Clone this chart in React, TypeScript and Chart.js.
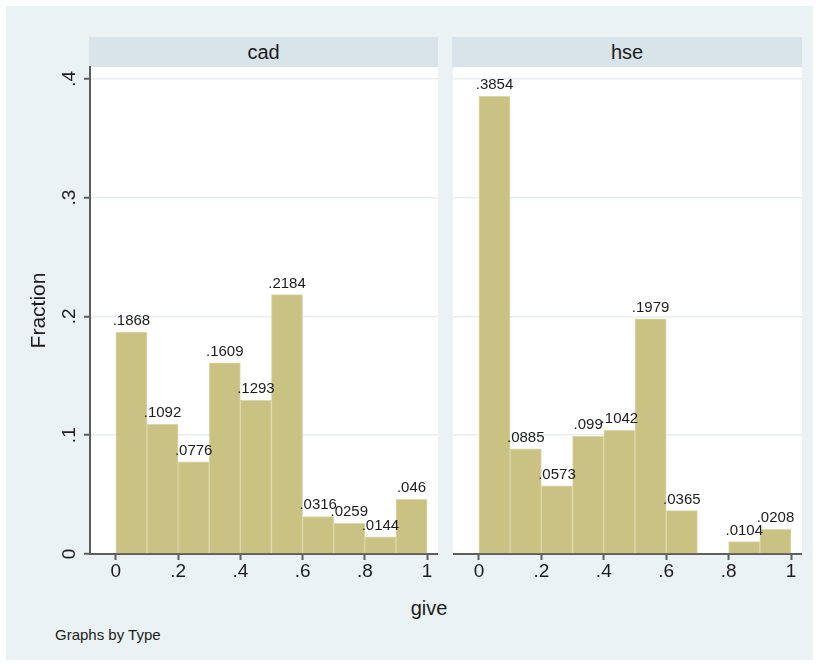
import React, { useEffect, useRef } from 'react';
import { Chart, registerables } from 'chart.js';

Chart.register(...registerables);

// ---- data ----
const panelNames = ['cad', 'hse'];
const binCenters = [0.05, 0.15, 0.25, 0.35, 0.45, 0.55, 0.65, 0.75, 0.85, 0.95];
const cadFractions = [0.1868, 0.1092, 0.0776, 0.1609, 0.1293, 0.2184, 0.0316, 0.0259, 0.0144, 0.046];
const hseFractions = [0.3854, 0.0885, 0.0573, 0.099, 0.1042, 0.1979, 0.0365, null, 0.0104, 0.0208];
const xTicks = [0, 0.2, 0.4, 0.6, 0.8, 1];
const yTicks = [0, 0.1, 0.2, 0.3, 0.4];
const yTitle = 'Fraction';
const xTitle = 'give';
const noteText = 'Graphs by Type';

// ---- style ----
const FONT = "'Liberation Sans', Arial, Helvetica, sans-serif";
const TEXT = '#1c1c1c';
const BG = '#eaf2f3';
const HEADER_BG = '#d8e4ea';
const GRID = '#e8eff2';
const AXIS = '#5e5e5e';
const BAR = '#c9c283';
const BAR_EDGE = '#dcd8ae';

const fmt = (v: number) => (v === 0 ? '0' : String(v).replace(/^0\./, '.'));

const plotBg = {
  id: 'plotBg',
  beforeDraw(chart: any) {
    const { ctx, chartArea } = chart;
    ctx.save();
    ctx.fillStyle = '#ffffff';
    ctx.fillRect(chartArea.left, chartArea.top, chartArea.right - chartArea.left, chartArea.bottom - chartArea.top);
    ctx.restore();
  },
};

const barLabels = {
  id: 'barLabels',
  afterDatasetsDraw(chart: any) {
    const ctx = chart.ctx;
    const meta = chart.getDatasetMeta(0);
    const ds = chart.data.datasets[0];
    ctx.save();
    ctx.font = `15px ${FONT}`;
    ctx.fillStyle = TEXT;
    ctx.textAlign = 'center';
    ctx.textBaseline = 'alphabetic';
    meta.data.forEach((el: any, i: number) => {
      const v = ds.data[i].y;
      if (v == null) return;
      ctx.fillText(fmt(v), el.x, el.y - 7);
    });
    ctx.restore();
  },
};

function Panel({ values, showY, left, width }: { values: (number | null)[]; showY: boolean; left: number; width: number }) {
  const ref = useRef<HTMLCanvasElement>(null);
  useEffect(() => {
    if (!ref.current) return;
    const chart = new Chart(ref.current, {
      type: 'bar',
      data: {
        datasets: [
          {
            data: binCenters.map((x, i) => ({ x, y: values[i] })) as any,
            backgroundColor: BAR,
            borderColor: BAR_EDGE,
            borderWidth: 1,
            barPercentage: 1,
            categoryPercentage: 1,
          },
        ],
      },
      options: {
        animation: false,
        responsive: false,
        maintainAspectRatio: false,
        devicePixelRatio: 1,
        layout: { padding: { top: 25, left: 0, right: 0, bottom: 0 } },
        plugins: { legend: { display: false }, tooltip: { enabled: false }, title: { display: false } },
        scales: {
          x: {
            type: 'linear',
            min: -0.083,
            max: 1.035,
            bounds: 'data',
            offset: false,
            afterBuildTicks: (s: any) => {
              s.ticks = xTicks.map((v) => ({ value: v }));
            },
            afterFit: (s: any) => {
              s.height = 40;
            },
            grid: { drawOnChartArea: false, offset: false, tickLength: 6, tickColor: AXIS, tickWidth: 2 },
            border: { color: AXIS, width: 2 },
            ticks: {
              autoSkip: false,
              maxRotation: 0,
              padding: 0,
              color: TEXT,
              font: { family: FONT, size: 19 },
              callback: (v: any) => fmt(Number(v)),
            },
          },
          y: {
            type: 'linear',
            min: 0,
            max: 0.41,
            bounds: 'data',
            afterBuildTicks: (s: any) => {
              s.ticks = yTicks.map((v) => ({ value: v }));
            },
            afterFit: (s: any) => {
              s.width = showY ? 90 : 0;
            },
            grid: {
              color: (c: any) => (c.tick && c.tick.value === 0 ? 'rgba(0,0,0,0)' : GRID),
              lineWidth: 1.5,
              drawTicks: showY,
              tickLength: 6,
              tickColor: AXIS,
              tickWidth: 2,
            },
            border: { display: showY, color: AXIS, width: 2 },
            ticks: {
              display: showY,
              autoSkip: false,
              minRotation: 90,
              maxRotation: 90,
              crossAlign: 'center',
              padding: 6,
              color: TEXT,
              font: { family: FONT, size: 19 },
              callback: (v: any) => fmt(Number(v)),
            },
            title: {
              display: showY,
              text: yTitle,
              color: TEXT,
              font: { family: FONT, size: 21 },
              padding: { top: 27, bottom: 0 },
            },
          },
        },
      } as any,
      plugins: [plotBg, barLabels],
    });
    return () => chart.destroy();
  }, []);
  return (
    <canvas
      ref={ref}
      width={width}
      height={552}
      style={{ position: 'absolute', left, top: 42, width, height: 552 }}
    />
  );
}

export default function App() {
  const headerStyle = (left: number, width: number): React.CSSProperties => ({
    position: 'absolute',
    left,
    top: 37,
    width,
    height: 30,
    background: HEADER_BG,
    color: TEXT,
    fontSize: 20,
    lineHeight: '30px',
    textAlign: 'center',
  });
  return (
    <div style={{ position: 'fixed', left: 0, top: 0, width: 819, height: 664, background: '#fff', fontFamily: FONT }}>
      <div style={{ position: 'absolute', left: 6, top: 6, width: 807, height: 654, background: BG }} />
      <div style={headerStyle(89, 349)}>{panelNames[0]}</div>
      <div style={headerStyle(452, 350)}>{panelNames[1]}</div>
      <Panel values={cadFractions} showY={true} left={0} width={438} />
      <Panel values={hseFractions} showY={false} left={453} width={349} />
      <div
        style={{
          position: 'absolute',
          left: 379,
          top: 598,
          width: 100,
          textAlign: 'center',
          fontSize: 20,
          lineHeight: '20px',
          color: TEXT,
        }}
      >
        {xTitle}
      </div>
      <div style={{ position: 'absolute', left: 55, top: 627, fontSize: 15, lineHeight: '16px', color: TEXT }}>{noteText}</div>
    </div>
  );
}
